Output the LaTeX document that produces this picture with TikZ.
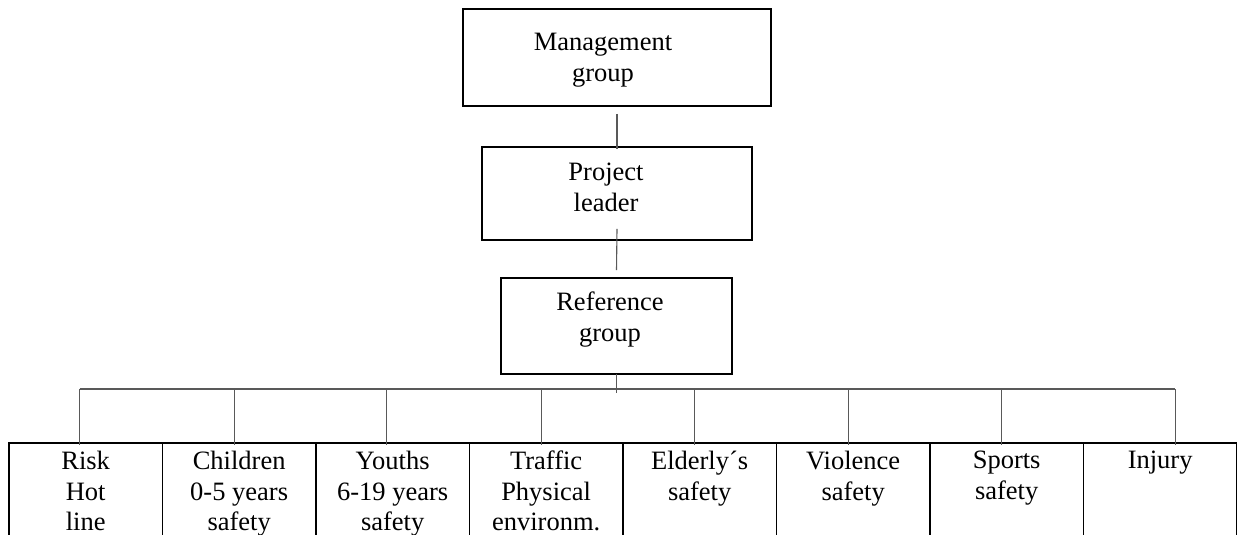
\documentclass[tikz,border=0pt]{standalone}
\usepackage{fontspec}
\setmainfont{Liberation Serif}
\begin{document}
\begin{tikzpicture}[x=1pt,y=-1pt,
  box/.style={draw=black,line width=1.8pt,rectangle,inner sep=0pt},
  txt/.style={align=center,inner sep=0pt,anchor=north,font=\fontsize{26.5}{30.5}\selectfont},
  conn/.style={draw=black!65,line width=1.1pt}]
\clip (0,0) rectangle (1237,535);
\fill[white] (0,0) rectangle (1237,535);
% top boxes
\node[box,minimum width=308pt,minimum height=97pt] (m) at (617,57.5) {};
\node[txt] (mt) at (603,33) {Management\\group};
\node[box,minimum width=270pt,minimum height=93pt] (p) at (617,193.5) {};
\node[txt] (pt) at (606,163) {Project\\leader};
\node[box,minimum width=231pt,minimum height=96pt] (r) at (616.5,326) {};
\node[txt] (rt) at (610,292) {Reference\\group};
\draw[conn] ([yshift=-7pt]m.south) -- ([yshift=-3pt]p.north);
\draw[conn] ([yshift=12pt]p.south) -- ([yshift=7pt]r.north);
% bottom cells
\foreach \i/\name/\t/\sx in {0/c1/{Risk\\Hot\\line}/-6,1/c2/{Children\\0-5 years\\safety}/-5,2/c3/{Youths\\6-19 years\\safety}/-6,3/c4/{Traffic\\Physical\\environm.}/-5,4/c5/{Elderly\textasciiacute s\\safety}/-5,5/c6/{Violence\\safety}/-5,6/c7/{Sports\\safety}/-5,7/c8/{Injury}/15}{
  \node[box,minimum width=153.5pt,minimum height=130pt,anchor=north west] (\name) at ({8+153.5*\i},442) {};
  \node[txt] (\name t) at (\name.north) [yshift=-9pt] {\t};
  \coordinate (\name s) at ([xshift=\sx pt]\name.north);
}
\coordinate (bl) at (c1s |- 0,389);
\coordinate (br) at (c8s |- 0,389);
\draw[conn] ([yshift=1pt]r.south) -- ([yshift=-4pt]r.south |- bl);
\draw[conn] (bl) -- (br);
\foreach \name in {c1,c2,c3,c4,c5,c6,c7,c8}{
  \draw[conn] (\name s |- bl) -- ([yshift=-3pt]\name s);
}
\end{tikzpicture}
\end{document}
